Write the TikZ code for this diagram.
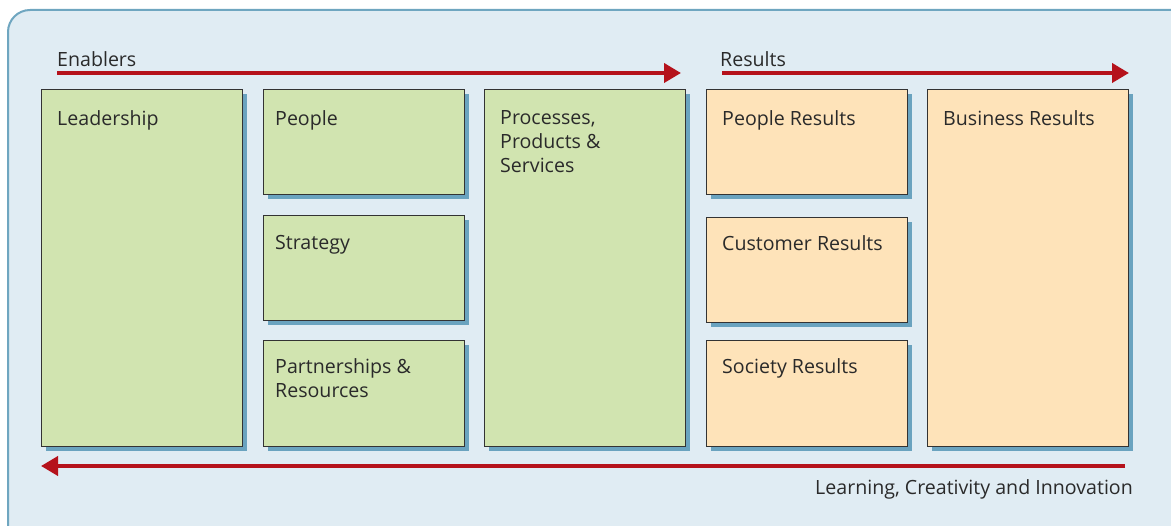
\documentclass[tikz,border=0pt]{standalone}
\usepackage{fontspec}
\setmainfont{Open Sans}
\usetikzlibrary{arrows.meta,shadows,positioning}
\definecolor{framebg}{HTML}{E0ECF3}
\definecolor{frameblue}{HTML}{6FA6C0}
\definecolor{shadowblue}{HTML}{6AA3BF}
\definecolor{enablergreen}{HTML}{D1E4B0}
\definecolor{resultorange}{HTML}{FEE3B9}
\definecolor{flowred}{HTML}{B5121B}
\definecolor{textgrey}{HTML}{2A2A2A}
\tikzset{
  area/.style={draw=black!80, line width=0.9pt, anchor=north west, inner sep=0pt,
    drop shadow={shadow xshift=5pt, shadow yshift=-5pt, fill=shadowblue, opacity=1}},
  enabler/.style={area, fill=enablergreen},
  result/.style={area, fill=resultorange},
  boxtext/.style={anchor=north west, inner sep=0pt, align=left, text=textgrey,
    font=\fontsize{19.6}{24}\selectfont},
  flow/.style={draw=flowred, line width=4pt, -{Triangle[length=17pt,width=19pt]}}
}
\begin{document}
\begin{tikzpicture}[x=1pt,y=-1pt]
\clip (0,0) rectangle (1171,526);
\useasboundingbox (0,0) rectangle (1171,526);
\draw[fill=framebg, draw=frameblue, line width=2pt, rounded corners=22pt] (8,10) rectangle (1200,560);

% enablers and results
\foreach \name/\x/\y/\h/\ind/\dy/\kind/\txt in {
  lead/41/89/357/16/21/enabler/Leadership,
  people/263/89/105/12/21/enabler/People,
  strat/263/215/105/12/20/enabler/Strategy,
  partner/263/340/106/12/18/enabler/{Partnerships \&\\Resources},
  process/484/89/357/16/21/enabler/{Processes,\\Products \&\\Services},
  peopleres/706/89/105/16/21/result/People Results,
  custres/706/217/105/16/18/result/Customer Results,
  socres/706/340/106/16/18/result/Society Results,
  busres/927/89/357/16/21/result/Business Results} {
  \node[\kind, minimum width=201pt, minimum height=\h pt] (\name) at (\x,\y) {};
  \node[boxtext] (\name-text) at ([xshift=\ind pt,yshift=-\dy pt]\name.north west) {\txt};
}

% flow arrows
\coordinate (enab-start) at (57,73);
\coordinate (enab-end) at (681,73);
\coordinate (res-start) at (722,73);
\coordinate (res-end) at (1129,73);
\coordinate (learn-start) at (1125,466);
\coordinate (learn-end) at (41,466);
\draw[flow] (enab-start) -- (enab-end);
\draw[flow] (res-start) -- (res-end);
\draw[flow] (learn-start) -- (learn-end);
\node[boxtext, anchor=south west] (enab-label) at ([yshift=6pt]enab-start) {Enablers};
\node[boxtext, anchor=south west] (res-label) at ([xshift=-2pt,yshift=6pt]res-start) {Results};
\node[boxtext, anchor=north east] (learn-label) at (1133,479) {Learning, Creativity and Innovation};
\end{tikzpicture}
\end{document}
